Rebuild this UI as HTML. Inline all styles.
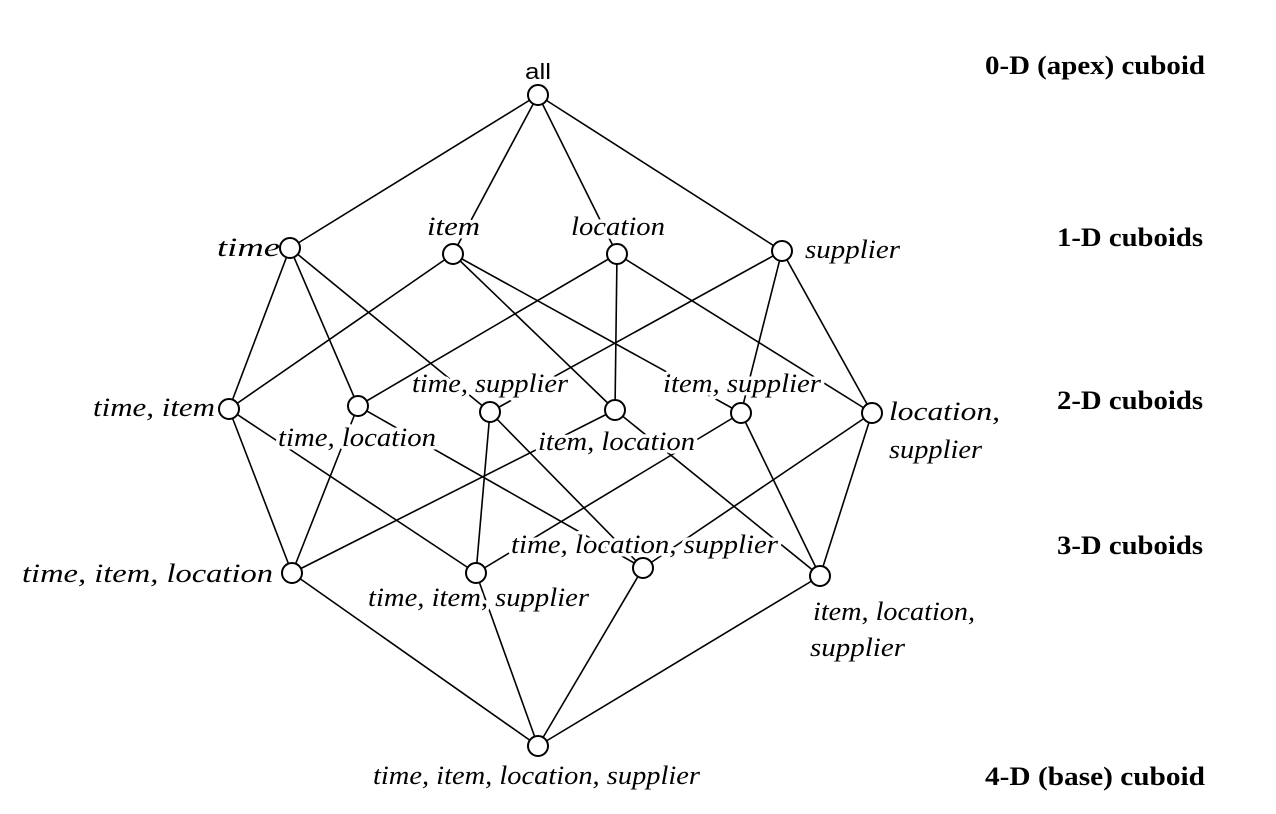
<!DOCTYPE html>
<html><head><meta charset="utf-8"><style>
html,body{margin:0;padding:0;background:#fff}
svg{display:block}
.t{font-family:"Liberation Serif",serif;font-style:italic;font-size:26px;fill:#000;stroke:#fff;stroke-width:7px;paint-order:stroke;stroke-linejoin:round}
.b{font-family:"Liberation Serif",serif;font-weight:bold;font-size:26px;fill:#000}
</style></head><body>
<svg width="1276" height="814" viewBox="0 0 1276 814">
<g stroke="#000" stroke-width="1.6" fill="none">
<line x1="538" y1="95" x2="290" y2="248"/><line x1="538" y1="95" x2="453" y2="254"/>
<line x1="538" y1="95" x2="617" y2="254"/><line x1="538" y1="95" x2="782" y2="251"/>
<line x1="290" y1="248" x2="229" y2="409"/><line x1="290" y1="248" x2="358" y2="406"/><line x1="290" y1="248" x2="490" y2="412"/>
<line x1="453" y1="254" x2="229" y2="409"/><line x1="453" y1="254" x2="615" y2="410"/><line x1="453" y1="254" x2="741" y2="413"/>
<line x1="617" y1="254" x2="358" y2="406"/><line x1="617" y1="254" x2="615" y2="410"/><line x1="617" y1="254" x2="872" y2="413"/>
<line x1="782" y1="251" x2="490" y2="412"/><line x1="782" y1="251" x2="741" y2="413"/><line x1="782" y1="251" x2="872" y2="413"/>
<line x1="229" y1="409" x2="292" y2="573"/><line x1="229" y1="409" x2="476" y2="573"/>
<line x1="358" y1="406" x2="292" y2="573"/><line x1="358" y1="406" x2="643" y2="568"/>
<line x1="490" y1="412" x2="476" y2="573"/><line x1="490" y1="412" x2="643" y2="568"/>
<line x1="615" y1="410" x2="292" y2="573"/><line x1="615" y1="410" x2="820" y2="576"/>
<line x1="741" y1="413" x2="476" y2="573"/><line x1="741" y1="413" x2="820" y2="576"/>
<line x1="872" y1="413" x2="643" y2="568"/><line x1="872" y1="413" x2="820" y2="576"/>
<line x1="292" y1="573" x2="538" y2="746"/><line x1="476" y1="573" x2="538" y2="746"/>
<line x1="643" y1="568" x2="538" y2="746"/><line x1="820" y1="576" x2="538" y2="746"/>
</g>
<g class="t">
<text x="217" y="256" textLength="63" lengthAdjust="spacingAndGlyphs">time</text>
<text x="427" y="235" textLength="53" lengthAdjust="spacingAndGlyphs">item</text>
<text x="571" y="235" textLength="94" lengthAdjust="spacingAndGlyphs">location</text>
<text x="805" y="258" textLength="95" lengthAdjust="spacingAndGlyphs">supplier</text>
<text x="93" y="416" textLength="122" lengthAdjust="spacingAndGlyphs">time, item</text>
<text x="278" y="446" textLength="158" lengthAdjust="spacingAndGlyphs">time, location</text>
<text x="412" y="392" textLength="156" lengthAdjust="spacingAndGlyphs">time, supplier</text>
<text x="538" y="450" textLength="157" lengthAdjust="spacingAndGlyphs">item, location</text>
<text x="663" y="392" textLength="158" lengthAdjust="spacingAndGlyphs">item, supplier</text>
<text x="889" y="420" textLength="111" lengthAdjust="spacingAndGlyphs">location,</text>
<text x="889" y="458" textLength="93" lengthAdjust="spacingAndGlyphs">supplier</text>
<text x="511" y="553" textLength="267" lengthAdjust="spacingAndGlyphs">time, location, supplier</text>
<text x="22" y="582" textLength="251" lengthAdjust="spacingAndGlyphs">time, item, location</text>
<text x="368" y="606" textLength="221" lengthAdjust="spacingAndGlyphs">time, item, supplier</text>
<text x="813" y="620" textLength="162" lengthAdjust="spacingAndGlyphs">item, location,</text>
<text x="810" y="656" textLength="95" lengthAdjust="spacingAndGlyphs">supplier</text>
<text x="373" y="784" textLength="327" lengthAdjust="spacingAndGlyphs">time, item, location, supplier</text>
</g>
<text x="525" y="79" textLength="26" lengthAdjust="spacingAndGlyphs" font-family="Liberation Sans, sans-serif" font-size="22">all</text>
<g fill="#fff" stroke="#000" stroke-width="2">
<circle cx="538" cy="95" r="10"/>
<circle cx="290" cy="248" r="10"/><circle cx="453" cy="254" r="10"/><circle cx="617" cy="254" r="10"/><circle cx="782" cy="251" r="10"/>
<circle cx="229" cy="409" r="10"/><circle cx="358" cy="406" r="10"/><circle cx="490" cy="412" r="10"/><circle cx="615" cy="410" r="10"/><circle cx="741" cy="413" r="10"/><circle cx="872" cy="413" r="10"/>
<circle cx="292" cy="573" r="10"/><circle cx="476" cy="573" r="10"/><circle cx="643" cy="568" r="10"/><circle cx="820" cy="576" r="10"/>
<circle cx="538" cy="746" r="10"/>
</g>
<g class="b">
<text x="985" y="74" textLength="220" lengthAdjust="spacingAndGlyphs">0-D (apex) cuboid</text>
<text x="1057" y="246" textLength="146" lengthAdjust="spacingAndGlyphs">1-D cuboids</text>
<text x="1057" y="409" textLength="146" lengthAdjust="spacingAndGlyphs">2-D cuboids</text>
<text x="1057" y="554" textLength="146" lengthAdjust="spacingAndGlyphs">3-D cuboids</text>
<text x="985" y="785" textLength="220" lengthAdjust="spacingAndGlyphs">4-D (base) cuboid</text>
</g>
</svg>
</body></html>
